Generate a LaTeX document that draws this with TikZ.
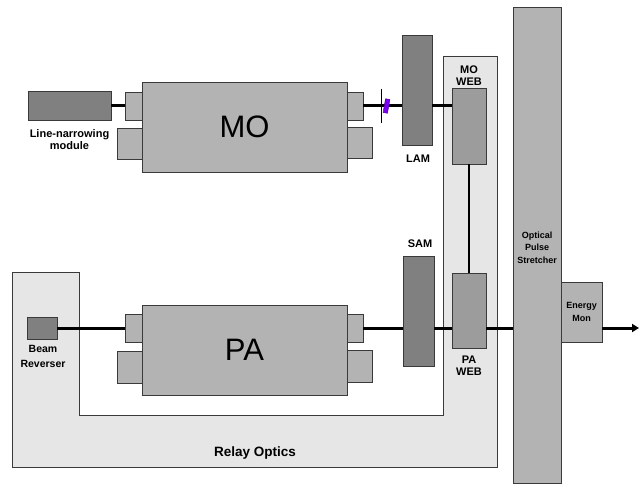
\documentclass[tikz,border=0pt]{standalone}
\usepackage{fontspec}
\setmainfont{Liberation Sans}
\usetikzlibrary{arrows.meta}
\usetikzlibrary{positioning}

\definecolor{bodygray}{HTML}{B3B3B3}
\definecolor{modgray}{HTML}{808080}
\definecolor{webgray}{HTML}{9C9C9C}
\definecolor{panelgray}{HTML}{E6E6E6}
\definecolor{rimgray}{HTML}{3A3A3A}
\definecolor{etalon}{HTML}{7A00F0}

\begin{document}
\begin{tikzpicture}[
  x=1pt, y=-1pt,
  every node/.style={inner sep=0pt, align=center, font=\fontsize{11}{11.5}\selectfont\bfseries},
  part/.style={draw=rimgray, line width=0.8pt, fill=bodygray},
  module/.style={part, fill=modgray},
  webbox/.style={part, fill=webgray},
  beam/.style={line width=3pt},
]
\tikzset{>={Triangle[length=7pt, width=8pt]}}
  \useasboundingbox (0,0) rectangle (639,486);

  % Relay optics panel
  \draw[draw=rimgray, line width=0.8pt, fill=panelgray]
    (12,272) -- (79,272) -- (79,415) -- (443,415) -- (443,56) -- (497,56)
    -- (497,467) -- (12,467) -- cycle;
  \node[font=\fontsize{13.5}{14}\selectfont\bfseries] (relay) at (255,453) {Relay Optics};

  % Nodes
  \node[part, minimum width=48, minimum height=476] (ops) at (537,245) {};
  \node[font=\fontsize{9}{12.5}\selectfont\bfseries] (opslbl) at (537,247.5) {Optical\\Pulse\\Stretcher};
  \node[part, minimum width=41, minimum height=60, font=\fontsize{9}{13}\selectfont\bfseries] (em) at (581.5,312) {Energy\\Mon};

  \node[module, minimum width=83, minimum height=29] (lnm) at (69.5,106) {};
  \node (lnmlbl) at (69.5,139.5) {Line-narrowing\\module};
  \node[part, minimum width=17, minimum height=28] (moinL) at (133.5,106) {};
  \node[part, minimum width=25, minimum height=31] (moloL) at (129.5,143.5) {};
  \node[part, minimum width=16, minimum height=28] (moinR) at (355,106) {};
  \node[part, minimum width=25, minimum height=31] (moloR) at (359.5,142.5) {};
  \node[part, minimum width=205, minimum height=90, font=\fontsize{31}{32}\selectfont] (mo) at (244.5,127) {MO};

  \coordinate (apT) at (381,89);
  \coordinate (apB) at (381,123);
  \node[module, minimum width=30, minimum height=110] (lam) at (417,90) {};
  \node (lamlbl) at (418,159) {LAM};
  \node (moweblbl) at (469,75.5) {MO\\WEB};
  \node[webbox, minimum width=34, minimum height=76] (moweb) at (469,126) {};

  \node[module, minimum width=30, minimum height=22] (br) at (42,328) {};
  \node[font=\fontsize{10.5}{14.5}\selectfont\bfseries] (brlbl) at (43,356.5) {Beam\\Reverser};
  \node[part, minimum width=17, minimum height=28] (pinL) at (133.5,328) {};
  \node[part, minimum width=25, minimum height=32] (ploL) at (129.5,367) {};
  \node[part, minimum width=16, minimum height=28] (pinR) at (355,328) {};
  \node[part, minimum width=25, minimum height=32] (ploR) at (359.5,366) {};
  \node[part, minimum width=205, minimum height=90, font=\fontsize{31}{32}\selectfont] (pa) at (244.5,350) {PA};

  \node[module, minimum width=31, minimum height=110] (sam) at (418.5,311) {};
  \node (samlbl) at (420,244) {SAM};
  \node[webbox, minimum width=34, minimum height=75] (paweb) at (469,310.5) {};
  \node (paweblbl) at (469,365.5) {PA\\WEB};
  \coordinate (out) at (639,328);

  % Edges
  \draw[beam] (lnm.east) -- (moinL.west);
  \draw[beam] (moinR.east) -- (moinR.east -| lam.west);
  \draw[beam] (moinR.east -| lam.east) -- (moinR.east -| moweb.west);
  \draw[line width=1pt] (apT) -- (apB);
  \node[fill=etalon, draw=etalon!60!black, line width=0.4pt, minimum width=4.5, minimum height=14, rotate=-10] (etal) at (386.5,106) {};
  \draw[beam, line width=2.4pt] (moweb.south) -- (paweb.north);
  \draw[beam] (br.east) -- (pinL.west);
  \draw[beam] (pinR.east) -- (pinR.east -| sam.west);
  \draw[beam] (pinR.east -| sam.east) -- (pinR.east -| paweb.west);
  \draw[beam] (pinR.east -| paweb.east) -- (pinR.east -| ops.west);
  \draw[beam, ->] (pinR.east -| em.east) -- (out);
\end{tikzpicture}
\end{document}
